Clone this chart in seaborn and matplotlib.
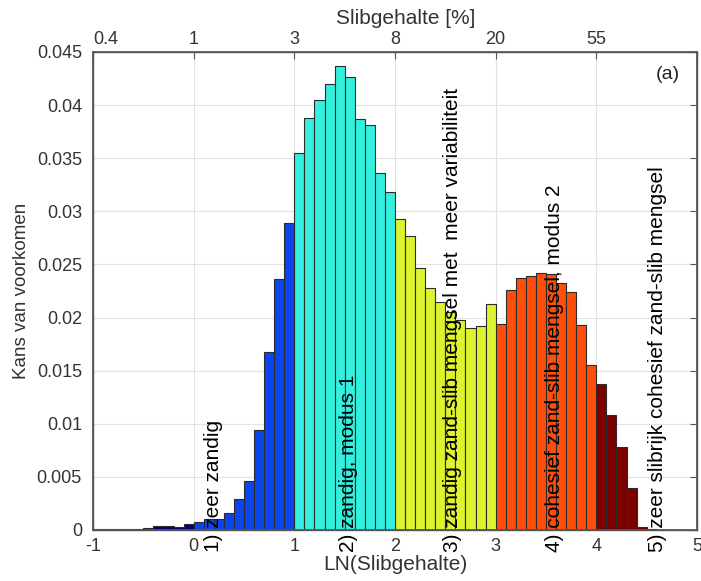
import numpy as np
import pandas as pd
import matplotlib
matplotlib.use("Agg")
import matplotlib.pyplot as plt
import seaborn as sns

# ---- data ----
bin_start = [-1.0, -0.9, -0.8, -0.7, -0.6, -0.5, -0.4, -0.3, -0.2, -0.1,
             0.0, 0.1, 0.2, 0.3, 0.4, 0.5, 0.6, 0.7, 0.8, 0.9,
             1.0, 1.1, 1.2, 1.3, 1.4, 1.5, 1.6, 1.7, 1.8, 1.9,
             2.0, 2.1, 2.2, 2.3, 2.4, 2.5, 2.6, 2.7, 2.8, 2.9,
             3.0, 3.1, 3.2, 3.3, 3.4, 3.5, 3.6, 3.7, 3.8, 3.9,
             4.0, 4.1, 4.2, 4.3, 4.4, 4.5]
kans = [0.0001, 0.0001, 0.00005, 0.0001, 0.0001, 0.00015, 0.0004, 0.0004, 0.0003, 0.0006,
        0.0008, 0.0010, 0.0010, 0.0016, 0.0029, 0.0046, 0.0094, 0.0168, 0.0236, 0.0289,
        0.0355, 0.0388, 0.0405, 0.0420, 0.0437, 0.0426, 0.0387, 0.0381, 0.0336, 0.0318,
        0.0293, 0.0277, 0.0247, 0.0228, 0.0215, 0.0205, 0.0198, 0.0190, 0.0192, 0.0213,
        0.0194, 0.0226, 0.0237, 0.0239, 0.0242, 0.0241, 0.0233, 0.0224, 0.0193, 0.0155,
        0.0137, 0.0108, 0.0078, 0.0040, 0.0003, 0.0001]
klasse_grenzen = [0, 1, 2, 3, 4]          # class boundaries in LN(Slibgehalte)
klasse_kleuren = ["#000080", "#0a46ec", "#33f0de", "#ddf330", "#ff4d0a", "#7d0000"]

labels = ["1) zeer zandig",
          "2) zandig, modus 1",
          "3) zandig zand-slib mengsel met  meer variabiliteit",
          "4) cohesief zand-slib mengsel, modus 2",
          "5) zeer slibrijk cohesief zand-slib mengsel"]
label_x = [0.20, 1.54, 2.57, 3.58, 4.61]

x_ticks = [-1, 0, 1, 2, 3, 4, 5]
top_tick_labels = ["0.4", "1", "3", "8", "20", "55", ""]
y_ticks = [0, 0.005, 0.01, 0.015, 0.02, 0.025, 0.03, 0.035, 0.04, 0.045]
y_tick_labels = ["0", "0.005", "0.01", "0.015", "0.02", "0.025", "0.03", "0.035", "0.04", "0.045"]

# ---- build table ----
bw = 0.1
centers = np.round(np.array(bin_start) + bw / 2, 3)
klasse = np.searchsorted(klasse_grenzen, np.array(bin_start) + 1e-9)
df = pd.DataFrame({"ln": centers, "kans": kans, "klasse": klasse})
edges = [round(b, 3) for b in bin_start] + [round(bin_start[-1] + bw, 3)]

sns.set_theme(style="white")
plt.rcParams["font.family"] = ["Liberation Sans", "DejaVu Sans"]

fig = plt.figure(figsize=(7.01, 5.81), dpi=100)
ax = fig.add_axes([93 / 701, 51 / 581, 604 / 701, 478 / 581])

sns.histplot(data=df, x="ln", weights="kans", hue="klasse", bins=edges,
             palette=dict(enumerate(klasse_kleuren)), alpha=1, multiple="layer",
             edgecolor="#2b2b2b", linewidth=0.8, legend=False, ax=ax)

ax.set_xlim(-1, 5)
ax.set_ylim(0, 0.045)
ax.set_xticks(x_ticks)
ax.set_xticklabels([str(t) for t in x_ticks])
ax.set_yticks(y_ticks)
ax.set_yticklabels(y_tick_labels)
ax.set_axisbelow(True)
ax.grid(True, color="#e2e2e2", linewidth=0.8)
ax.tick_params(direction="in", length=5, width=0.8, color="#555555",
               labelsize=13, labelcolor="#333333", right=True, pad=6)
ax.tick_params(axis="y", pad=8)
for s in ax.spines.values():
    s.set_color("#555555")
    s.set_linewidth(1.0)
ax.set_xlabel("LN(Slibgehalte)", fontsize=15, color="#333333", labelpad=0)
ax.set_ylabel("Kans van voorkomen", fontsize=13.5, color="#333333", labelpad=5)

ax2 = ax.twiny()
ax2.set_xlim(ax.get_xlim())
ax2.set_xticks(x_ticks)
ax2.set_xticklabels(top_tick_labels)
ax2.tick_params(direction="in", length=5, width=0.8, color="#555555",
                labelsize=13, labelcolor="#333333", pad=3)
ax2.get_xticklabels()[0].set_ha("left")
for s in ax2.spines.values():
    s.set_color("#555555")
ax2.set_xlabel("Slibgehalte [%]", fontsize=15, color="#333333", labelpad=3)
ax2.xaxis.set_label_coords(0.517, 1.058)

for lx, txt in zip(label_x, labels):
    ax.text(lx, -0.0021, txt, rotation=90, ha="center", va="bottom",
            fontsize=15, color="black", clip_on=False)

ax.text(0.952, 0.952, "(a)", transform=ax.transAxes, ha="center", va="center",
        fontsize=14, color="#222222")

fig.savefig("out.png", dpi=100)
